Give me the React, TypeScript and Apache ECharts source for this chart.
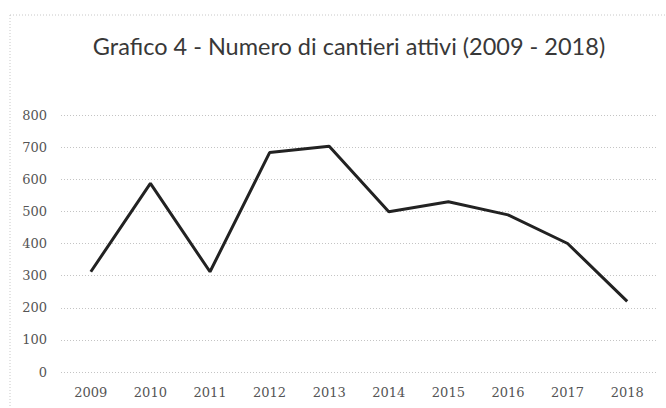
import React, { useEffect, useRef } from "react";
import * as echarts from "echarts";

const categories = ["2009", "2010", "2011", "2012", "2013", "2014", "2015", "2016", "2017", "2018"];
const cantieri = [312, 587, 312, 683, 703, 499, 530, 489, 400, 220];
const titleText = "Grafico 4 - Numero di cantieri attivi (2009 - 2018)";

export default function App() {
  const ref = useRef<HTMLDivElement>(null);
  useEffect(() => {
    document.body.style.margin = "0";
    const chart = echarts.init(ref.current!, null, { renderer: "svg" });
    chart.setOption({
      animation: false,
      backgroundColor: "#ffffff",
      title: {
        text: titleText,
        left: 344,
        top: 29,
        textAlign: "center",
        textStyle: { fontFamily: "Lato", fontSize: 23.5, fontWeight: "normal", color: "#383838" },
      },
      graphic: [
        {
          type: "rect",
          shape: { x: 10, y: 15, width: 680, height: 420 },
          style: { fill: "none", stroke: "#c8c8c8", lineWidth: 1, lineDash: [1, 2] },
          silent: true,
        },
      ],
      grid: { left: 61, right: 9, top: 115, bottom: 36, containLabel: false },
      xAxis: {
        type: "category",
        data: categories,
        boundaryGap: true,
        axisLine: { show: false },
        axisTick: { show: false },
        axisLabel: { fontFamily: "'DejaVu Serif'", fontSize: 13, color: "#555555", margin: 14 },
      },
      yAxis: {
        type: "value",
        min: 0,
        max: 800,
        interval: 100,
        axisLine: { show: false },
        axisTick: { show: false },
        axisLabel: { fontFamily: "'DejaVu Serif'", fontSize: 13, color: "#555555", margin: 14 },
        splitLine: { lineStyle: { color: "#c4c4c4", type: [1, 2], width: 1 } },
      },
      series: [
        {
          type: "line",
          data: cantieri,
          symbol: "none",
          lineStyle: { color: "#222222", width: 3 },
        },
      ],
    });
    return () => chart.dispose();
  }, []);
  return <div ref={ref} style={{ width: 666, height: 408 }} />;
}
